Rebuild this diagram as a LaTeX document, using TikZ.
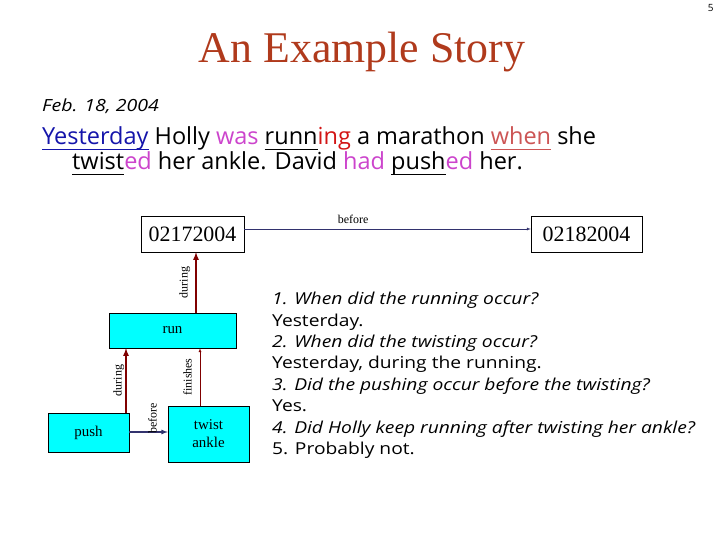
\documentclass[tikz,border=0pt]{standalone}
\usepackage{fontspec}
\setmainfont{Liberation Serif}
\newfontfamily\storyfont{Open Sans}
\newfontfamily\qafont[FakeStretch=1.17]{Open Sans}
\usetikzlibrary{arrows.meta}
\definecolor{titlered}{RGB}{176,58,28}
\definecolor{nowblue}{RGB}{20,20,170}
\definecolor{tensepink}{RGB}{204,68,204}
\definecolor{ingred}{RGB}{210,20,20}
\definecolor{whenred}{RGB}{204,85,85}
\definecolor{linknavy}{RGB}{50,50,110}
\definecolor{linkred}{RGB}{128,0,0}
\definecolor{eventcyan}{RGB}{0,255,255}
% underline at one fixed depth
\newcommand\ulword[1]{\underline{\raisebox{0pt}[\height][2.5pt]{#1}}}
\tikzset{
datebox/.style={
  draw,
  fill=white,
  minimum width=103bp,
  minimum height=36bp,
  inner sep=0pt,
  font=\fontsize{22}{24}\selectfont
  },
eventbox/.style={
  draw,
  fill=eventcyan,
  inner sep=0pt,
  align=center,
  font=\fontsize{15}{18}\selectfont
  },
rel/.style={
  inner sep=1pt,
  font=\fontsize{12}{13}\selectfont
  },
vrel/.style={
  rel,
  rotate=90
  },
story/.style={
  anchor=base west,
  inner sep=0pt,
  font=\storyfont\fontsize{23.6}{26}\selectfont
  }
}

\begin{document}
\begin{tikzpicture}[>=latex,x=1bp,y=-1bp]
            \useasboundingbox (0,0) rectangle (720,540);
            % heading
            \node[anchor=base east,font=\storyfont\fontsize{10}{11}\selectfont] (pageno) at (717,12) {5};
            \node[anchor=base,text=titlered,font=\fontsize{44}{48}\selectfont] (title) at (362,63) {An Example Story};
            \node[story,font=\qafont\itshape\fontsize{16.8}{20}\selectfont] (date) at (42,112) {Feb. 18, 2004};
            \node[story] (line1) at (42,145) {\textcolor{nowblue}{\ulword{Yesterday}} Holly \textcolor{tensepink}{was} \ulword{runn}\textcolor{ingred}{ing} a marathon \textcolor{whenred}{\ulword{when}} she};
            \node[story] (line2) at (72,170) {\ulword{twist}\textcolor{tensepink}{ed} her ankle. David \textcolor{tensepink}{had} \ulword{push}\textcolor{tensepink}{ed} her.};
            % time line
            \node[datebox] (d17) at (192.5,234) {02172004};
            \node[datebox,minimum width=111bp] (d18) at (586.5,234) {02182004};
            \draw[->,linknavy] (d17.east |- 0,229) -- node[rel,above=4bp,pos=0.38,text=black] (b1) {before} (d18.west |- 0,229);
            % events
            \node[eventbox,minimum width=127bp,minimum height=35bp] (run) at (172.5,330.5) {run};
            \node[eventbox,minimum width=81bp,minimum height=39bp] (push) at (88.5,432.5) {push};
            \node[eventbox,minimum width=81bp,minimum height=56bp] (twist) at (208.5,434) {twist\\ankle};
            \draw[->,linkred,line width=1.6pt] (run.north -| 196,0) -- node[xshift=-4bp,vrel,above,text=black] (l1) {during} (d17.south -| 196,0);
            \draw[->,linkred,line width=1.6pt] (push.north -| 126,0) -- node[vrel,above,text=black] (l2) {during} (run.south -| 126,0);
            \draw[->,linkred] (twist.north -| 200,0) -- node[xshift=-7bp,vrel,above,text=black] (l3) {finishes} (run.south -| 200,0);
            \draw[->,linknavy,line width=1.2pt] (push.east |- 0,432) -- node[yshift=-3bp,vrel,anchor=west,pos=0.6,text=black] (l4) {before} (twist.west |- 0,432);
            % questions
            \node[anchor=north west,align=left,inner sep=0pt,font=\qafont\fontsize{16.5}{21.5}\selectfont] (qa) at (272,292) {%
                \textit{1. When did the running occur?}\\
                Yesterday.\\
                \textit{2. When did the twisting occur?}\\
                Yesterday, during the running.\\
                \textit{3. Did the pushing occur before the twisting?}\\
                Yes.\\
                \textit{4. Did Holly keep running after twisting her ankle?}\\
                5. Probably not.};
        \end{tikzpicture}
\end{document}
